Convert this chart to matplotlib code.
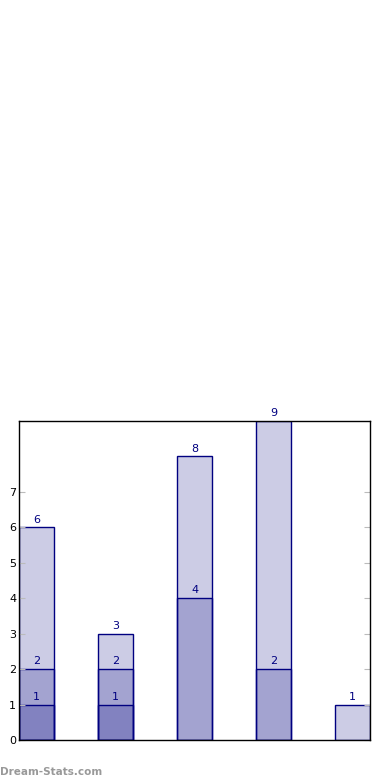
import matplotlib
matplotlib.use("Agg")
from matplotlib import pyplot as plt

# Data: three overlaid series per group
groups = [0, 1, 2, 3, 4]
series_a = [6, 3, 8, 9, 1]
series_b = [2, 2, 4, 2, 0]
series_c = [1, 1, 0, 0, 0]
y_ticks = [0, 1, 2, 3, 4, 5, 6, 7]

fig = plt.figure(figsize=(3.9, 7.8), dpi=100)
ax = fig.add_axes([19 / 390, 40 / 780, 351 / 390, 319 / 780])

bar_w = 0.45
for vals in [series_a, series_b, series_c]:
    xs = [g for g, v in zip(groups, vals) if v > 0]
    hs = [v for v in vals if v > 0]
    ax.bar(xs, hs, width=bar_w, align="edge", color="navy", alpha=0.2,
           edgecolor="none")
    ax.bar(xs, hs, width=bar_w, align="edge", color="none",
           edgecolor="navy", linewidth=1)
    for x, h in zip(xs, hs):
        ax.annotate(str(h), (x + bar_w / 2, h), xytext=(0, 2),
                    textcoords="offset points", ha="center", va="bottom",
                    color="navy", fontsize=8, annotation_clip=False)

ax.set_xlim(0, 4.45)
ax.set_ylim(0, 9)
ax.set_xticks([])
ax.set_yticks(y_ticks)
ax.tick_params(axis="y", direction="in", length=4, color="#bbbbbb",
               labelsize=8, right=True, pad=2)
for s in ax.spines.values():
    s.set_linewidth(1)

fig.text(0.0, 0.004, "Dream-Stats.com", color="#999999", fontsize=7.5,
         fontweight="bold", ha="left", va="bottom")

fig.savefig("out.png", dpi=100)
